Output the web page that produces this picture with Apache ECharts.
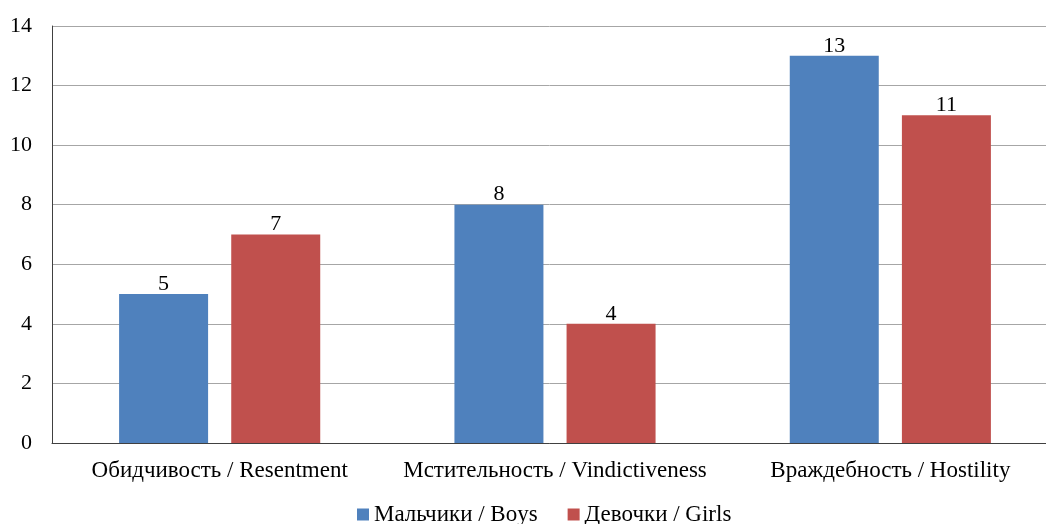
<!DOCTYPE html>
<html><head><meta charset="utf-8">
<script src="https://cdn.jsdelivr.net/npm/echarts@6/dist/echarts.min.js"></script>
<style>html,body{margin:0;padding:0;background:#fff}#c{width:1046px;height:524px}</style>
</head><body><div id="c"></div>
<script>
const categories = ['Обидчивость / Resentment', 'Мстительность / Vindictiveness', 'Враждебность / Hostility'];
const boys = [5, 8, 13];
const girls = [7, 4, 11];
const seriesNames = ['Мальчики / Boys', 'Девочки / Girls'];
const font = 'Liberation Serif';
const chart = echarts.init(document.getElementById('c'));
chart.setOption({
  animation: false,
  textStyle: {fontFamily: font},
  grid: {left: 52, width: 1006, top: 26, bottom: 81, containLabel: false, outerBoundsMode: 'none'},
  legend: {
    left: 352, bottom: -7, itemWidth: 12, itemHeight: 12, itemGap: 30,
    textStyle: {fontFamily: font, fontSize: 23, color: '#000'},
    icon: 'rect'
  },
  xAxis: {
    type: 'category', data: categories,
    axisLine: {lineStyle: {color: '#404040', width: 1}},
    axisTick: {show: false},
    axisLabel: {fontFamily: font, fontSize: 23, color: '#000', margin: 16, interval: 0}
  },
  yAxis: {
    type: 'value', min: 0, max: 14, interval: 2,
    axisLine: {show: true, lineStyle: {color: '#404040'}},
    axisTick: {show: false},
    splitLine: {lineStyle: {color: '#a6a6a6'}},
    axisLabel: {fontFamily: font, fontSize: 22, color: '#000', margin: 20}
  },
  series: [
    {name: seriesNames[0], type: 'bar', data: boys, barWidth: 89, barGap: '26%',
     itemStyle: {color: '#4F81BD'},
     label: {show: true, position: 'top', distance: -1, fontFamily: font, fontSize: 22, color: '#000'}},
    {name: seriesNames[1], type: 'bar', data: girls, barWidth: 89,
     itemStyle: {color: '#C0504D'},
     label: {show: true, position: 'top', distance: -1, fontFamily: font, fontSize: 22, color: '#000'}}
  ]
});
</script></body></html>
